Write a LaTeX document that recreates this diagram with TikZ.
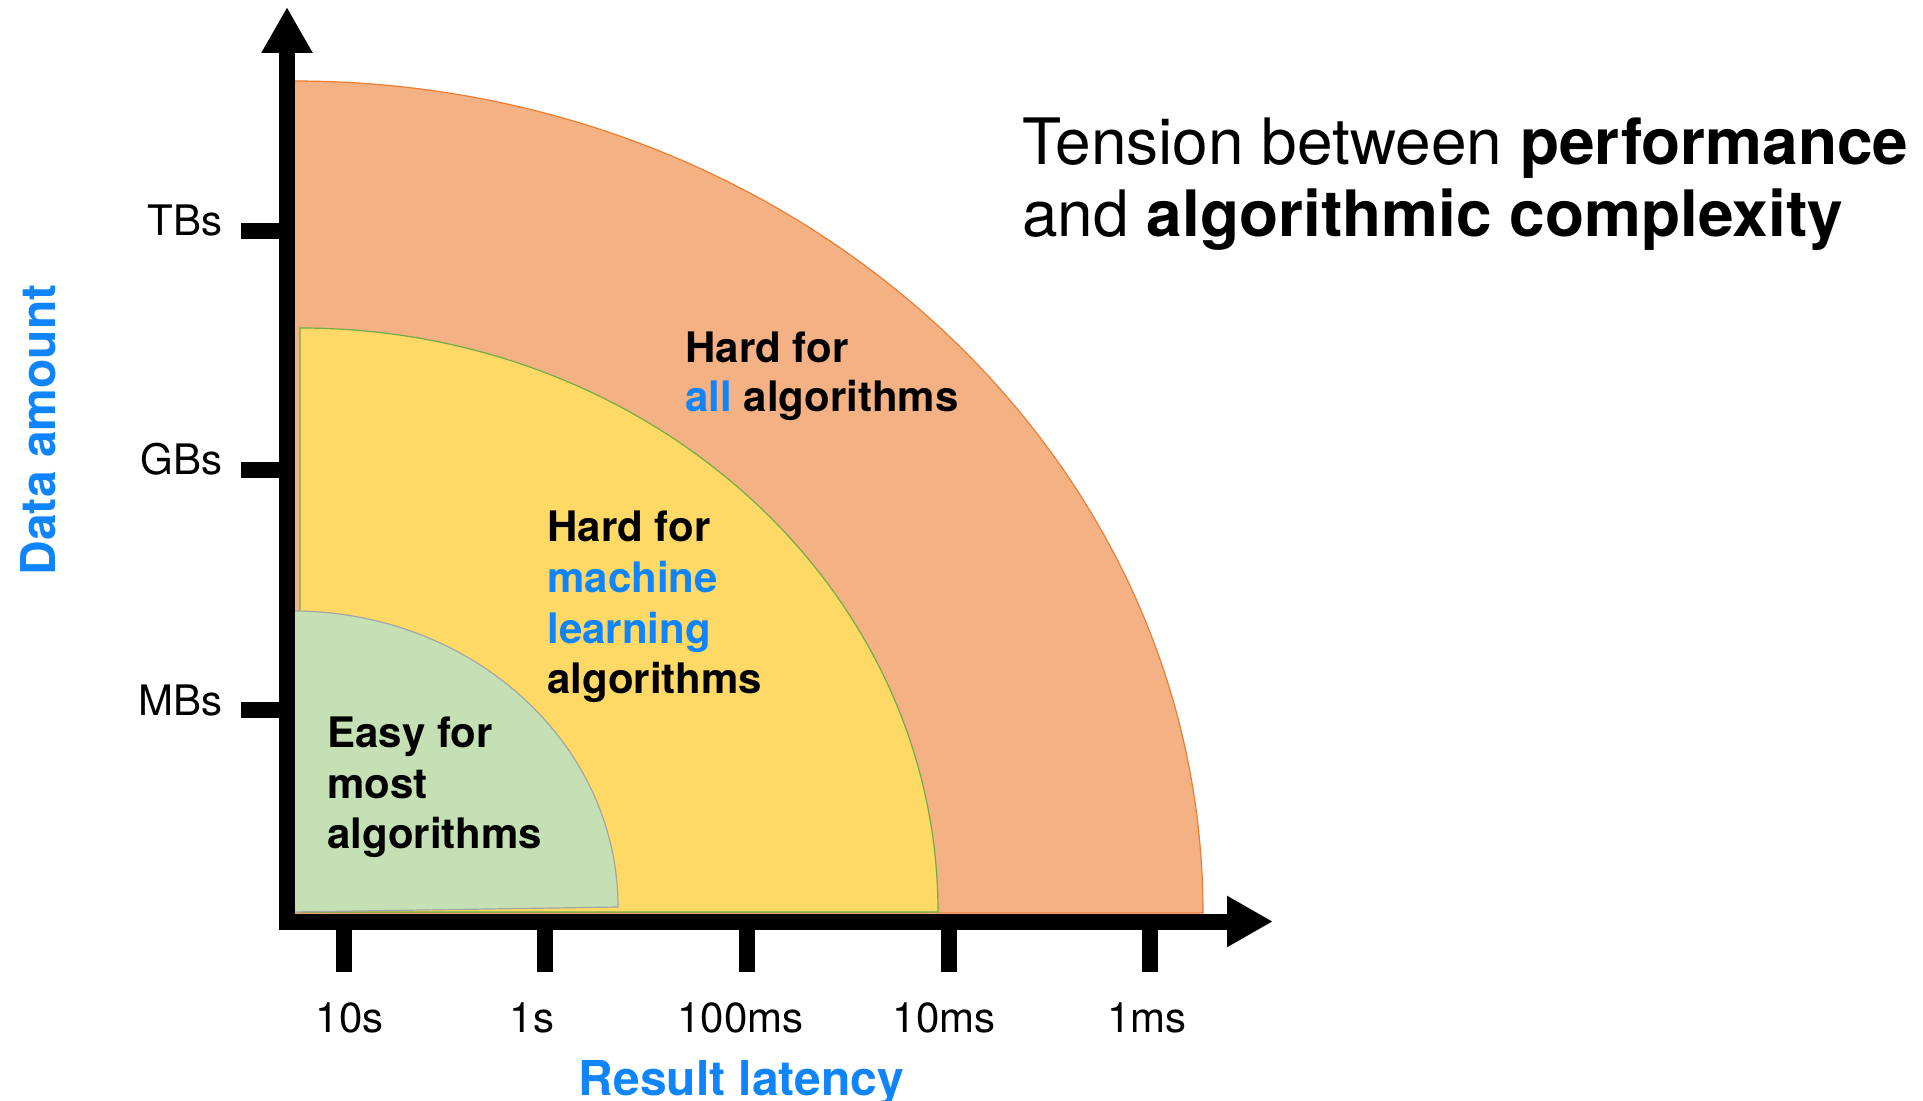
\documentclass[tikz,border=0pt]{standalone}
\usepackage{fontspec}
\setmainfont{TeX Gyre Heros}
\usetikzlibrary{arrows.meta}

\definecolor{orangefill}{HTML}{F4B183}
\definecolor{orangeline}{HTML}{ED7D31}
\definecolor{yellowfill}{HTML}{FFD966}
\definecolor{yellowline}{HTML}{70AD47}
\definecolor{greenfill}{HTML}{C5E0B4}
\definecolor{greenline}{HTML}{A5A5A5}
\definecolor{accent}{RGB}{16,132,250}

\tikzset{
  axisbar/.style={line width=8pt, line join=miter,
    {Triangle[length=23pt,width=24pt]}-{Triangle[length=23pt,width=24pt]}},
  tickbar/.style={line width=8pt},
  ticklabel/.style={inner sep=0pt, font=\fontsize{21}{25}\selectfont},
  axistitle/.style={inner sep=0pt, text=accent, font=\fontsize{24}{28}\selectfont\bfseries},
  zonetext/.style={inner sep=0pt, anchor=base west, font=\fontsize{21}{25}\selectfont\bfseries},
  titletext/.style={inner sep=0pt, anchor=base west, font=\fontsize{32}{38}\selectfont},
  zone/.style={line width=0.6pt}
}

\begin{document}
\begin{tikzpicture}[x=0.5pt, y=-0.5pt]
\useasboundingbox (0,0) rectangle (1923,1101);

% nested quarter regions, largest first
\filldraw[zone, fill=orangefill, draw=orangeline]
  (294,913) -- (294,81) arc[start angle=270, end angle=360, x radius=909, y radius=832] -- cycle;
\filldraw[zone, fill=yellowfill, draw=yellowline]
  (300,912) -- (300,328) arc[start angle=270, end angle=360, x radius=638, y radius=584] -- cycle;
\filldraw[zone, fill=greenfill, draw=greenline]
  (293,912) -- (293,611) arc[start angle=270, end angle=360, x radius=325, y radius=296] -- cycle;

% axes
\coordinate (ytip) at (287,7);
\coordinate (origin) at (287,921.5);
\coordinate (xtip) at (1273,921.5);
\draw[axisbar] (ytip) -- (origin) -- (xtip);

% latency ticks and labels
\foreach \name/\tx/\lx/\lab in {t10s/343.5/349.5/10s, t1s/545/532/1s, t100ms/747/740.5/100ms, t10ms/949/944/10ms, t1ms/1150/1147/1ms}{
  \coordinate (\name-top) at (\tx,929);
  \coordinate (\name-bot) at (\tx,972);
  \draw[tickbar] (\name-top) -- (\name-bot);
  \node[ticklabel, anchor=base] (\name-lab) at (\lx,1032.5) {\lab};
}

% data-size ticks and labels
\foreach \name/\ty/\by/\lab in {tb/231.5/236/TBs, gb/470/475/GBs, mb/709.5/715/MBs}{
  \coordinate (\name-in) at (280,\ty);
  \coordinate (\name-out) at (241,\ty);
  \draw[tickbar] (\name-in) -- (\name-out);
  \node[ticklabel, anchor=base east] (\name-lab) at (223,\by) {\lab};
}

% axis titles
\node[axistitle, anchor=base, rotate=90] (ytitle) at (55,430) {Data amount};
\node[axistitle, anchor=base] (xtitle) at (741.5,1095) {Result latency};

% region captions
\node[zonetext] (all1) at (685,363) {Hard for};
\node[zonetext] (all2) at (685,412) {\textcolor{accent}{all} algorithms};

\node[zonetext] (ml1) at (547,542) {Hard for};
\node[zonetext, text=accent] (ml2) at (547,592) {machine};
\node[zonetext, text=accent] (ml3) at (547,643) {learning};
\node[zonetext] (ml4) at (547,693) {algorithms};

\node[zonetext] (easy1) at (327,747) {Easy for};
\node[zonetext] (easy2) at (327,798) {most};
\node[zonetext] (easy3) at (327,848) {algorithms};

% heading
\node[titletext] (head1) at (1022,165) {Tension between \textbf{performance}};
\node[titletext] (head2) at (1022,237) {and \textbf{algorithmic complexity}};
\end{tikzpicture}
\end{document}
